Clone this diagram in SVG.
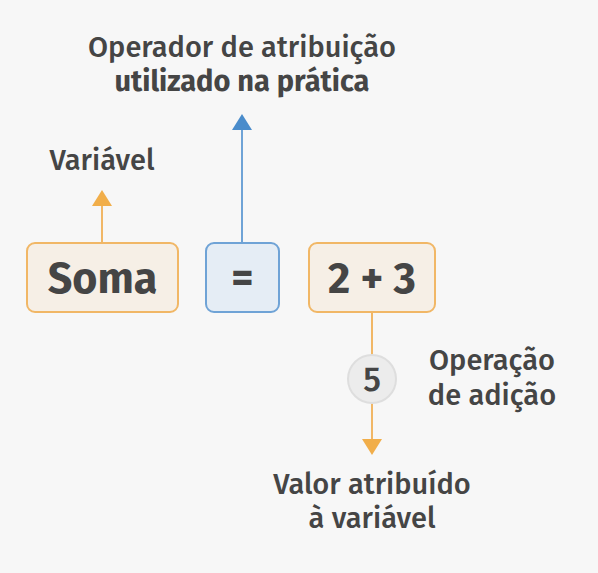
<svg xmlns="http://www.w3.org/2000/svg" width="598" height="573" viewBox="0 0 598 573">
<style>
text{font-family:"Fira Sans","Noto Sans","Open Sans","DejaVu Sans",sans-serif;fill:#454545;text-anchor:middle}
.lbl{font-size:29px;font-weight:500}
.lblb{font-size:29px;font-weight:700}
.big{font-size:43px;font-weight:700}
.orange{fill:#f6efe6;stroke:#f1b766;stroke-width:2}
.blue{fill:#e5edf5;stroke:#6fa3d6;stroke-width:2}
.lo{stroke:#f1b766;stroke-width:2;fill:none}
.lb{stroke:#6fa3d6;stroke-width:2;fill:none}
</style>
<rect width="598" height="573" fill="#f7f7f7"/>
<g id="connectors">
<line class="lo" x1="102" y1="243" x2="102" y2="205"/>
<path d="M92,206 L102,190 L112,206 Z" fill="#f1ae4a"/>
<line class="lb" x1="242" y1="243" x2="242" y2="129"/>
<path d="M232,130 L242,114 L252,130 Z" fill="#4a8ccb"/>
<line class="lo" x1="372" y1="312" x2="372" y2="355"/>
<line class="lo" x1="372" y1="403" x2="372" y2="440"/>
<path d="M362,439 L372,455 L382,439 Z" fill="#f1ae4a"/>
</g>
<g id="label-operador">
<text class="lbl" x="242" y="57">Operador de atribuição</text>
<text class="lblb" x="242" y="91">utilizado na prática</text>
</g>
<g id="label-variavel"><text class="lbl" x="102" y="170">Variável</text></g>
<g id="node-soma">
<rect class="orange" x="27" y="243" width="151" height="69" rx="8"/>
<text class="big" x="102.5" y="293">Soma</text>
</g>
<g id="node-eq">
<rect class="blue" x="206" y="243" width="73" height="69" rx="8"/>
<text class="big" x="242.5" y="292">=</text>
</g>
<g id="node-expr">
<rect class="orange" x="309" y="243" width="126" height="69" rx="8"/>
<text class="big" x="372" y="293">2 + 3</text>
</g>
<g id="node-result">
<circle cx="372" cy="379" r="24" fill="#ececec" stroke="#dedede" stroke-width="2"/>
<text x="372" y="391" style="font-size:34px;font-weight:500">5</text>
</g>
<g id="label-operacao">
<text class="lbl" x="492" y="370">Operação</text>
<text class="lbl" x="492" y="405">de adição</text>
</g>
<g id="label-valor">
<text class="lbl" x="372" y="494">Valor atribuído</text>
<text class="lbl" x="372" y="528">à variável</text>
</g>
</svg>
